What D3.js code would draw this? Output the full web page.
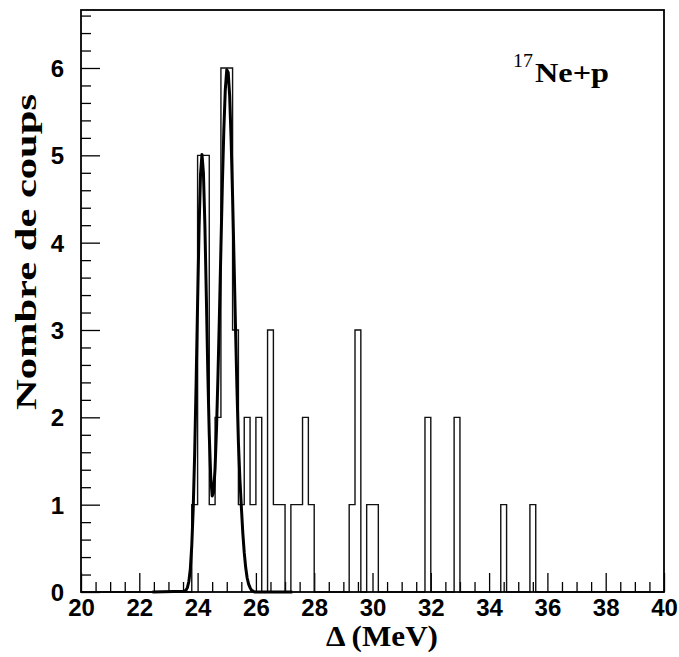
<!DOCTYPE html>
<html>
<head>
<meta charset="utf-8">
<script src="https://cdn.jsdelivr.net/npm/d3@7"></script>
<style>
  html, body { margin: 0; padding: 0; background: #fff; }
  svg { display: block; }
</style>
</head>
<body>
<svg id="chart" width="679" height="657"></svg>
<script>
// ---- data ----
const binWidth = 0.2;
const binLow = [23.8, 24.0, 24.2, 24.4, 24.6, 24.8, 25.0, 25.2, 25.4, 25.6, 25.8, 26.0, 26.4, 26.6, 26.8,
                27.2, 27.4, 27.6, 27.8, 29.2, 29.4, 29.8, 30.0, 31.8, 32.8, 34.4, 35.4];
const binCount = [1, 5, 5, 1, 2, 6, 6, 3, 1, 2, 1, 2, 3, 1, 1,
                  1, 1, 2, 1, 1, 3, 1, 1, 2, 2, 1, 1];

const curveX = [22.45, 23.55, 23.60, 23.65, 23.70, 23.75, 23.80, 23.85, 23.90, 23.95, 24.00, 24.05, 24.10, 24.15,
                24.20, 24.25, 24.30, 24.35, 24.40, 24.45, 24.50, 24.55, 24.60, 24.65, 24.70, 24.75,
                24.80, 24.85, 24.90, 24.95, 25.00, 25.05, 25.10, 25.15, 25.20, 25.25, 25.30, 25.35,
                25.40, 25.45, 25.50, 25.55, 25.60, 25.65, 25.70, 25.75, 25.80, 25.85, 25.90, 25.95, 27.25];
const curveY = [0, 0.01, 0.02, 0.05, 0.12, 0.26, 0.53, 0.96, 1.59, 2.40, 3.31, 4.16, 4.78, 5.01,
                4.80, 4.20, 3.38, 2.52, 1.80, 1.32, 1.10, 1.14, 1.42, 1.88, 2.49, 3.19,
                3.94, 4.67, 5.29, 5.75, 5.98, 5.95, 5.68, 5.18, 4.53, 3.79, 3.04, 2.33,
                1.71, 1.30, 0.98, 0.68, 0.45, 0.28, 0.16, 0.09, 0.05, 0.02, 0.01, 0, 0];

const xMajorTicks = [20, 22, 24, 26, 28, 30, 32, 34, 36, 38, 40];
const yMajorTicks = [0, 1, 2, 3, 4, 5, 6];
const xDomain = [20, 40];
const yDomain = [0, 6.664];
const xTitle = "Δ (MeV)";
const yTitle = "Nombre de coups";
const annSup = "17";
const annMain = "Ne+p";

// ---- layout ----
const L = 81, R = 664, T = 10, B = 592;
const svg = d3.select("#chart");
const x = d3.scaleLinear().domain(xDomain).range([L, R]);
const y = d3.scaleLinear().domain(yDomain).range([B, T]);

// histogram: build full bin array from the nonzero bins
const nBins = Math.round((xDomain[1] - xDomain[0]) / binWidth);
const counts = new Array(nBins).fill(0);
binLow.forEach((lo, i) => { counts[Math.round((lo - xDomain[0]) / binWidth)] = binCount[i]; });

const hist = d3.path();
hist.moveTo(x(xDomain[0]), y(0));
counts.forEach((c, i) => {
  const lo = xDomain[0] + i * binWidth, hi = lo + binWidth;
  hist.lineTo(x(lo), y(c));
  hist.lineTo(x(hi), y(c));
});
hist.lineTo(x(xDomain[1]), y(0));

// minor ticks
const xMinor = d3.range(xDomain[0], xDomain[1] + 1e-9, 0.5).filter(v => Math.abs(v / 2 - Math.round(v / 2)) > 1e-6);
const yMinor = d3.range(0, yDomain[1], 0.2).filter(v => Math.abs(v - Math.round(v)) > 1e-6);

const sans = "'Liberation Sans', Arial, sans-serif";
const serif = "'Liberation Serif', 'Times New Roman', serif";

const axisG = svg.append("g");
axisG.append("g").attr("transform", `translate(0,${B})`)
  .call(d3.axisBottom(x).tickValues(xMinor).tickSize(-10).tickFormat(""))
  .call(g => g.select(".domain").remove());
axisG.append("g").attr("transform", `translate(0,${B})`)
  .call(d3.axisBottom(x).tickValues(xMajorTicks).tickSize(-19).tickFormat(d3.format("d")))
  .call(g => g.select(".domain").remove())
  .call(g => g.selectAll("text").attr("y", 24).attr("dy", 0)
      .style("font-family", sans).style("font-weight", "bold").style("font-size", "24px").attr("fill", "#000"));
axisG.append("g").attr("transform", `translate(${L},0)`)
  .call(d3.axisLeft(y).tickValues(yMinor).tickSize(-10).tickFormat(""))
  .call(g => g.select(".domain").remove());
axisG.append("g").attr("transform", `translate(${L},0)`)
  .call(d3.axisLeft(y).tickValues(yMajorTicks).tickSize(-19).tickFormat(d3.format("d")))
  .call(g => g.select(".domain").remove())
  .call(g => g.selectAll("text").attr("x", -17).attr("dy", "0.36em").attr("text-anchor", "end")
      .style("font-family", sans).style("font-weight", "bold").style("font-size", "24px").attr("fill", "#000"));
axisG.selectAll(".tick line").attr("stroke", "#000").attr("stroke-width", 1.3);

// histogram outline
svg.append("path").attr("d", hist.toString())
  .attr("fill", "none").attr("stroke", "#111").attr("stroke-width", 1.4);

// fit curve
const line = d3.line().x((d, i) => x(curveX[i])).y(d => y(d));
svg.append("path").attr("d", line(curveY))
  .attr("fill", "none").attr("stroke", "#000").attr("stroke-width", 3).attr("stroke-linejoin", "round");

// frame
svg.append("rect").attr("x", L).attr("y", T).attr("width", R - L).attr("height", B - T)
  .attr("fill", "none").attr("stroke", "#000").attr("stroke-width", 1.8);

// titles
svg.append("text").attr("x", 382).attr("y", 646).attr("text-anchor", "middle")
  .attr("textLength", 112).attr("lengthAdjust", "spacingAndGlyphs")
  .style("font-family", serif).style("font-weight", "bold").style("font-size", "29px").text(xTitle);
svg.append("text").attr("transform", "translate(36,252) rotate(-90)").attr("text-anchor", "middle")
  .attr("textLength", 316).attr("lengthAdjust", "spacingAndGlyphs")
  .style("font-family", serif).style("font-weight", "bold").style("font-size", "30px").text(yTitle);

// annotation
svg.append("text").attr("x", 513).attr("y", 67)
  .attr("textLength", 20).attr("lengthAdjust", "spacingAndGlyphs")
  .style("font-family", serif).style("font-size", "18px").text(annSup);
svg.append("text").attr("x", 535).attr("y", 82)
  .attr("textLength", 74).attr("lengthAdjust", "spacingAndGlyphs")
  .style("font-family", serif).style("font-weight", "bold").style("font-size", "27px").text(annMain);
</script>
</body>
</html>
